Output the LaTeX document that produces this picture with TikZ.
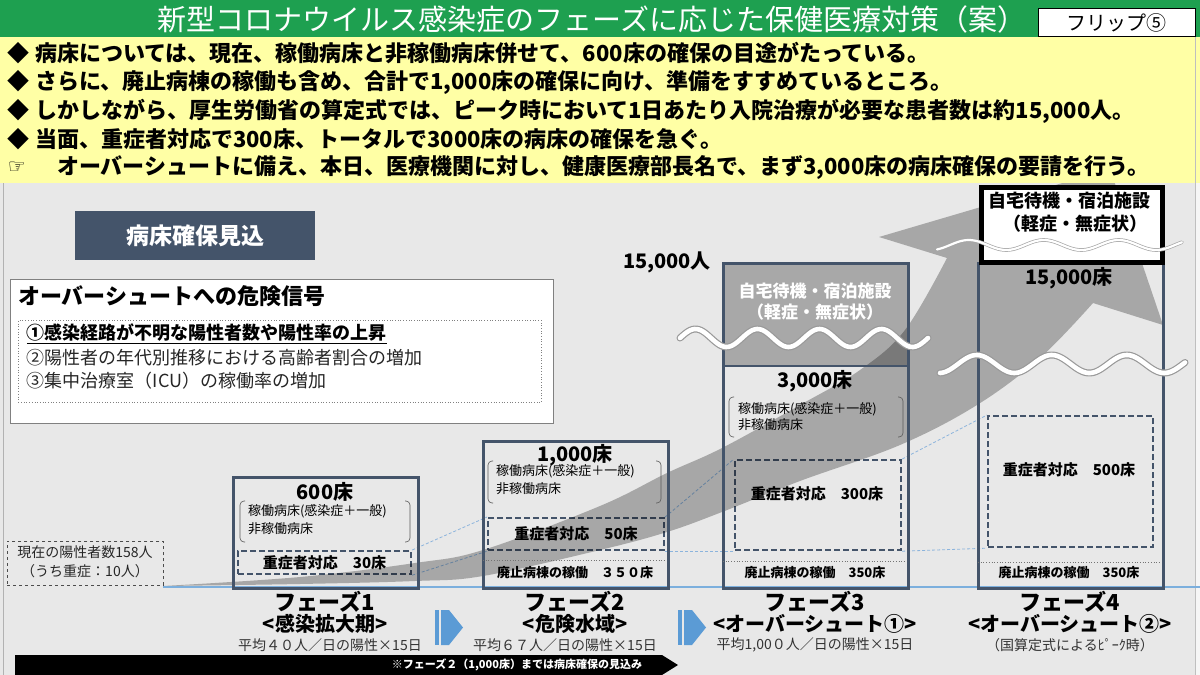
\documentclass[tikz,border=0pt]{standalone}
\usepackage{fontspec}
\usepackage{graphicx}
\setmainfont{Noto Sans CJK JP}
\newfontfamily\symfont{DejaVu Sans}
\newcommand\fsz[1]{\fontsize{#1}{#1}\selectfont}
\definecolor{tgreen}{RGB}{30,160,80}
\definecolor{tyellow}{RGB}{255,255,165}
\definecolor{tbg}{RGB}{232,232,232}
\definecolor{slate}{RGB}{68,84,106}
\definecolor{tblue}{RGB}{91,155,213}
\definecolor{lblue}{RGB}{140,180,220}
\definecolor{midgray}{RGB}{168,168,168}
\begin{document}
\begin{tikzpicture}[x=1pt,y=-1pt,
  txt/.style={inner sep=0pt, outer sep=0pt},
  phasebox/.style={draw=slate, line width=2.5pt, anchor=north west, inner sep=0pt},
  dbox/.style={draw=slate, line width=2.2pt, dash pattern=on 6pt off 3pt, anchor=north west, inner sep=0pt},
  guide/.style={draw=lblue, line width=0.8pt, dash pattern=on 3pt off 2pt},
  bracket/.style={draw=black!65, line width=0.6pt, rounded corners=4pt},
  sepline/.style={draw=black!55, line width=0.7pt, dotted},
  wavebase/.style={draw=black!40, line width=7pt, line cap=round},
  wavetop/.style={draw=white, line width=4.6pt, line cap=round},
  chev/.style={fill=tblue},
]
\useasboundingbox (0,0) rectangle (1200,675);
% backgrounds
\fill[tgreen] (0,0) rectangle (1200,37);
\fill[tyellow] (0,37) rectangle (1200,183);
\fill[tbg] (0,183) rectangle (1200,675);
\draw[black!30, line width=0.8pt] (3,183) -- (3,675);
\draw[black!25, line width=0.8pt] (1195,37) -- (1195,675);
\fill[white!60!tbg] (1196,183) rectangle (1200,675);

% title
\node[txt, text=white, font=\fsz{29}] (title) at (592,19) {新型コロナウイルス感染症のフェーズに応じた保健医療対策（案）};
\node[draw=black, fill=white, line width=0.8pt, anchor=north west, minimum width=157pt, minimum height=28pt, inner sep=0pt, font=\fsz{20}] (flip) at (1038,8) {フリップ⑤};

% bullet lines
\node[txt, anchor=west, font=\fsz{22}\bfseries] (l1) at (8,53) {◆ 病床については、現在、稼働病床と非稼働病床併せて、600床の確保の目途がたっている。};
\node[txt, anchor=west, font=\fsz{22}\bfseries] (l2) at (8,82) {◆ さらに、廃止病棟の稼働も含め、合計で1,000床の確保に向け、準備をすすめているところ。};
\node[txt, anchor=west, font=\fsz{22}\bfseries] (l3) at (8,111) {◆ しかしながら、厚生労働省の算定式では、ピーク時において1日あたり入院治療が必要な患者数は約15,000人。};
\node[txt, anchor=west, font=\fsz{22}\bfseries] (l4) at (8,139) {◆ 当面、重症者対応で300床、トータルで3000床の病床の確保を急ぐ。};
\node[txt, anchor=west, font=\symfont\fsz{20}] (hand) at (8,168) {☞};
\node[txt, anchor=west, font=\fsz{22}\bfseries] (l5) at (57,168) {オーバーシュートに備え、本日、医療機関に対し、健康医療部長名で、まず3,000床の病床確保の要請を行う。};

% label box
\node[fill=slate, anchor=north west, minimum width=240pt, minimum height=49pt, inner sep=0pt] (lab) at (75,211) {};
\node[txt, text=white, font=\fsz{23}\bfseries] (labt) at (lab.center) {病床確保見込};

% danger box
\node[draw=black!50, fill=white, line width=0.8pt, anchor=north west, minimum width=543pt, minimum height=144pt, inner sep=0pt] (dng) at (10,279) {};
\node[txt, anchor=west, font=\fsz{22}\bfseries] (dngt) at (18,296) {オーバーシュートへの危険信号};
\node[draw=black!50, dotted, line width=0.7pt, anchor=north west, minimum width=523pt, minimum height=82pt, inner sep=0pt] (dngin) at (18,320) {};
\node[txt, anchor=west, font=\fsz{18}\bfseries] (s1) at (27,334) {\underline{①感染経路が不明な陽性者数や陽性率の上昇}};
\node[txt, anchor=west, font=\fsz{18}, text=black!85] (s2) at (27,358) {②陽性者の年代別推移における高齢者割合の増加};
\node[txt, anchor=west, font=\fsz{18}, text=black!85] (s3) at (27,381) {③集中治療室（ICU）の稼働率の増加};

% phase 3 top fill
\fill[midgray] (722,262) rectangle (907,366);

% current positives
\node[draw=black!70, dashed, line width=0.8pt, anchor=north west, minimum width=156pt, minimum height=44pt, inner sep=0pt] (cur) at (7,541) {};
\node[txt, font=\fsz{14}, text=black!85] (cur1) at (85,552) {現在の陽性者数158人};
\node[txt, font=\fsz{14}, text=black!85] (cur2) at (85,571) {（うち重症：10人）};

% baseline
\coordinate (bstart) at (163,587);
\coordinate (bend) at (1200,587);
\draw[tblue!80, line width=1.2pt] (bstart) -- (bend);

% dashed boxes (nodes)
\node[dbox, minimum width=173pt, minimum height=23pt] (d1) at (237,550) {};
\node[dbox, minimum width=176pt, minimum height=32pt] (d2) at (487,517) {};
\node[dbox, minimum width=166pt, minimum height=90pt] (d3) at (734,459) {};
\node[dbox, minimum width=165pt, minimum height=131pt] (d4) at (987,415) {};

% guide lines
\draw[guide] (d1.north east) -- (d2.north west);
\draw[guide] (d1.south east) -- (d2.south west);
\draw[guide] (d2.north east) -- (d3.north west);
\draw[guide] (d2.south east) -- (d3.south west);
\draw[guide] (d3.north east) -- (d4.north west);
\draw[guide] (d3.south east) -- (d4.south west);

% big curved arrow
\begin{scope}
\clip (0,183) rectangle (1200,675);
\fill[black, fill opacity=0.28] plot[smooth, tension=0.6] coordinates {(163,586) (300,577) (415,563) (483,550) (600,506) (667,473) (722,448) (800,405) (860,370) (905,330) (947,258)} -- (879,237) -- (1110,169) -- (1163,325) -- (1093,303) -- plot[smooth, tension=0.6] coordinates {(1093,303) (1040,358) (977,405) (900,445) (800,481) (722,512) (667,532) (600,550) (483,576) (415,581) (300,584) (163,586)} -- cycle;
\end{scope}

% phase boxes
\node[phasebox, minimum width=185pt, minimum height=111pt] (p1) at (232,476) {};
\node[phasebox, minimum width=185pt, minimum height=147pt] (p2) at (482,440) {};
\node[phasebox, minimum width=185pt, minimum height=325pt] (p3) at (722,262) {};
\node[phasebox, minimum width=185pt, minimum height=325pt] (p4) at (977,262) {};
\draw[slate, line width=2.5pt] (722,366) -- (907,366);
\draw[sepline] (483,560) -- (666,560);
\draw[sepline] (723,561) -- (906,561);
\draw[sepline] (978,562) -- (1161,562);

% brackets
\draw[bracket] (245,501) -- (240,501) -- (240,542) -- (245,542);
\draw[bracket] (405,501) -- (410,501) -- (410,542) -- (405,542);
\draw[bracket] (493,461) -- (488,461) -- (488,503) -- (493,503);
\draw[bracket] (656,461) -- (661,461) -- (661,503) -- (656,503);
\draw[bracket] (734,397) -- (729,397) -- (729,437) -- (734,437);
\draw[bracket] (898,397) -- (903,397) -- (903,437) -- (898,437);

% top white box
\node[draw=black, fill=white, line width=5pt, anchor=north west, minimum width=181pt, minimum height=75pt, inner sep=0pt] (top4) at (979,185) {};

% waves
\draw[wavebase] plot[domain=680:928, samples=120, smooth] (\x, {338-9*sin((\x-680)/62*360)});
\draw[wavetop] plot[domain=680:928, samples=120, smooth] (\x, {338-9*sin((\x-680)/62*360)});
\draw[wavebase] plot[domain=940:1185, samples=120, smooth] (\x, {364-9*sin((\x-958)/75*360)});
\draw[wavetop] plot[domain=940:1185, samples=120, smooth] (\x, {364-9*sin((\x-958)/75*360)});
\draw[draw=black!35, line width=3.6pt, line cap=round] plot[domain=937:1182, samples=120, smooth] (\x, {245-5*sin((\x-950)/75*360)});
\draw[draw=white, line width=2.2pt, line cap=round] plot[domain=937:1182, samples=120, smooth] (\x, {245-5*sin((\x-950)/75*360)});

% phase 1 texts
\node[txt, font=\fsz{20}\bfseries] (p1t) at (325,492) {600床};
\node[txt, anchor=west, font=\fsz{13}] (p1a) at (248,511) {稼働病床(感染症＋一般)};
\node[txt, anchor=west, font=\fsz{13}] (p1b) at (248,529) {非稼働病床};
\node[txt, font=\fsz{15}\bfseries] (d1t) at (d1.center) {重症者対応　30床};

% phase 2 texts
\node[txt, font=\fsz{20}\bfseries] (p2t) at (575,455) {1,000床};
\node[txt, anchor=west, font=\fsz{13}] (p2a) at (496,471) {稼働病床(感染症＋一般)};
\node[txt, anchor=west, font=\fsz{13}] (p2b) at (496,489) {非稼働病床};
\node[txt, font=\fsz{15}\bfseries] (d2t) at (d2.center) {重症者対応　50床};
\node[txt, font=\fsz{13}\bfseries] (p2c) at (575,573) {廃止病棟の稼働　３５０床};

% phase 3 texts
\node[txt, text=white, font=\fsz{17}\bfseries] (p3h1) at (815,291) {自宅待機・宿泊施設};
\node[txt, text=white, font=\fsz{17}\bfseries] (p3h2) at (815,312) {（軽症・無症状）};
\node[txt, font=\fsz{20}\bfseries] (p3t) at (815,381) {3,000床};
\node[txt, anchor=west, font=\fsz{13}] (p3a) at (738,409) {稼働病床(感染症＋一般)};
\node[txt, anchor=west, font=\fsz{13}] (p3b) at (738,425) {非稼働病床};
\node[txt, font=\fsz{15}\bfseries] (d3t) at (817,494) {重症者対応　300床};
\node[txt, font=\fsz{13}\bfseries] (p3c) at (815,573) {廃止病棟の稼働　350床};

% phase 4 texts
\node[txt, font=\fsz{18}\bfseries] (p4h1) at (1069,201) {自宅待機・宿泊施設};
\node[txt, font=\fsz{18}\bfseries] (p4h2) at (1075,224) {（軽症・無症状）};
\node[txt, font=\fsz{20}\bfseries] (p4t) at (1069,278) {15,000床};
\node[txt, font=\fsz{15}\bfseries] (d4t) at (1069,470) {重症者対応　500床};
\node[txt, font=\fsz{13}\bfseries] (p4c) at (1069,573) {廃止病棟の稼働　350床};

\node[txt, font=\fsz{20}\bfseries] (ppl) at (667,262) {15,000人};

% phase labels
\node[txt, font=\fsz{22}\bfseries] (f1) at (325,602) {フェーズ1};
\node[txt, font=\fsz{20}\bfseries] (f1b) at (325,624) {<感染拡大期>};
\node[txt, font=\fsz{14}, text=black!80] (f1c) at (330,645) {平均４０人／日の陽性×15日};
\node[txt, font=\fsz{22}\bfseries] (f2) at (575,602) {フェーズ2};
\node[txt, font=\fsz{20}\bfseries] (f2b) at (575,624) {<危険水域>};
\node[txt, font=\fsz{14}, text=black!80] (f2c) at (565,645) {平均６７人／日の陽性×15日};
\node[txt, font=\fsz{22}\bfseries] (f3) at (815,602) {フェーズ3};
\node[txt, font=\fsz{20}\bfseries] (f3b) at (815,624) {<オーバーシュート①>};
\node[txt, font=\fsz{14}, text=black!80] (f3c) at (815,645) {平均1,00０人／日の陽性×15日};
\node[txt, font=\fsz{22}\bfseries] (f4) at (1070,602) {フェーズ4};
\node[txt, font=\fsz{20}\bfseries] (f4b) at (1070,624) {<オーバーシュート②>};
\node[txt, font=\fsz{14}, text=black!80] (f4c) at (1070,645) {（国算定式によるﾋﾟｰｸ時）};

% chevrons
\fill[chev] (435,610) rectangle (439,645);
\fill[chev] (441,610) -- (449,610) -- (463,627.5) -- (449,645) -- (441,645) -- cycle;
\fill[chev] (678,610) rectangle (682,645);
\fill[chev] (684,610) -- (692,610) -- (706,627.5) -- (692,645) -- (684,645) -- cycle;

% banner
\fill[black] (15,655) -- (662,655) -- (678,665) -- (662,675) -- (15,675) -- cycle;
\node[txt, anchor=east, text=white, font=\fsz{11}\bfseries] (ban) at (642,665) {※フェーズ２（1,000床）までは病床確保の見込み};
\end{tikzpicture}
\end{document}
